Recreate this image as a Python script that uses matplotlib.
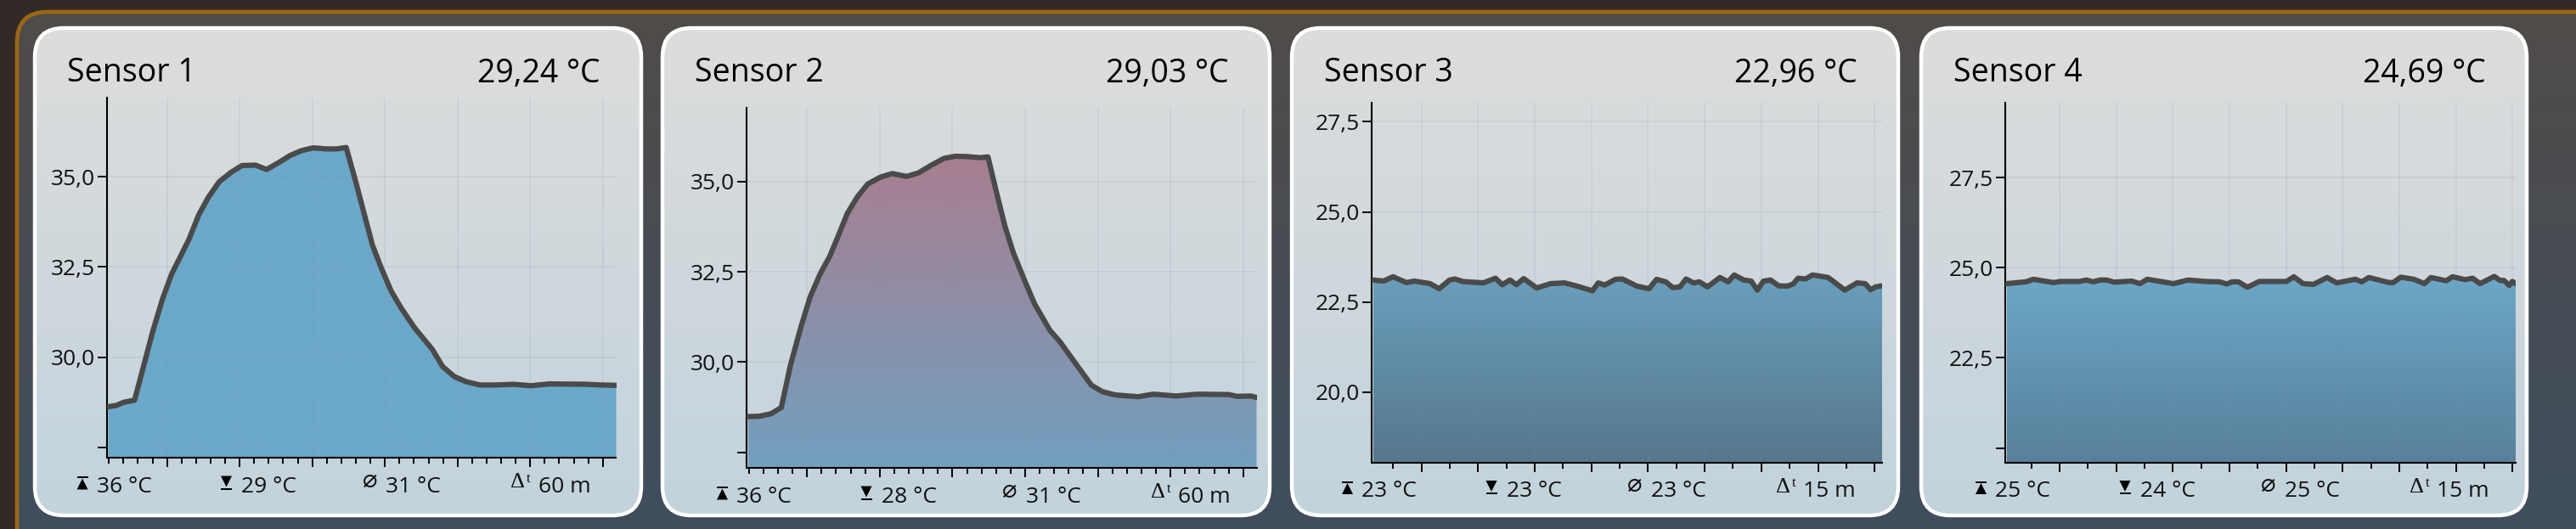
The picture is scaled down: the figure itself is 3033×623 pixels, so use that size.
import numpy as np
import matplotlib
matplotlib.use('Agg')
import matplotlib.pyplot as plt
from matplotlib.colors import LinearSegmentedColormap
from matplotlib.patches import FancyBboxPatch, Polygon, Rectangle

plt.rcParams['font.family'] = ['Open Sans', 'DejaVu Sans']

W, H = 3033, 623

names = ['Sensor 1', 'Sensor 2', 'Sensor 3', 'Sensor 4']
current = ['29,24 °C', '29,03 °C', '22,96 °C', '24,69 °C']
max_labels = ['36 °C', '36 °C', '23 °C', '25 °C']
min_labels = ['29 °C', '28 °C', '23 °C', '24 °C']
avg_labels = ['31 °C', '31 °C', '23 °C', '25 °C']
span_labels = ['60 m', '60 m', '15 m', '15 m']

t1 = [0, 0.9, 1.8, 3.1, 4.0, 5.2, 6.4, 7.5, 8.5, 9.5, 10.7, 11.8, 13.1, 14.5, 15.8, 17.4, 18.7, 20.2, 21.5, 22.8,
      24.2, 25.7, 27.0, 28.1, 29.2, 30.2, 31.2, 32.2, 33.4, 34.6, 36.2, 38.3, 39.5, 40.9, 42.3, 43.9, 45.6, 47.9,
      49.9, 52.1, 56.4, 58.3, 60]
v1 = [28.63, 28.66, 28.75, 28.81, 29.60, 30.67, 31.61, 32.31, 32.78, 33.25, 33.95, 34.42, 34.86, 35.12, 35.31, 35.32,
      35.20, 35.40, 35.59, 35.72, 35.80, 35.77, 35.77, 35.81, 34.89, 34.00, 33.11, 32.50, 31.84, 31.36, 30.81, 30.21,
      29.74, 29.46, 29.32, 29.23, 29.23, 29.25, 29.21, 29.26, 29.25, 29.23, 29.22]

t2 = [0, 1.3, 2.7, 3.9, 5.0, 6.2, 7.3, 8.5, 9.6, 10.6, 11.7, 12.9, 14.1, 15.6, 17.0, 18.7, 20.1, 21.6, 23.1, 24.5,
      25.8, 27.3, 28.3, 29.3, 30.3, 31.3, 32.6, 33.8, 35.6, 36.8, 38.3, 40.5, 41.8, 43.3, 46.0, 47.8, 50.5, 53.0,
      56.7, 57.7, 59.3, 60]
v2 = [28.49, 28.50, 28.57, 28.74, 29.93, 30.96, 31.80, 32.45, 32.92, 33.48, 34.12, 34.58, 34.93, 35.12, 35.22, 35.14,
      35.24, 35.45, 35.64, 35.70, 35.69, 35.66, 35.68, 34.70, 33.76, 33.02, 32.27, 31.61, 30.88, 30.56, 30.07, 29.36,
      29.18, 29.09, 29.04, 29.11, 29.06, 29.11, 29.10, 29.05, 29.06, 29.02]

t3 = [0, .30, .58, .97, 1.21, 1.67, 1.94, 2.25, 2.40, 2.63, 3.24, 3.60, 3.80, 4.03, 4.22, 4.43, 4.82, 5.22, 5.64, 6.01,
      6.46, 6.63, 6.82, 7.14, 7.34, 7.77, 8.13, 8.35, 8.62, 8.83, 9.04, 9.22, 9.44, 9.61, 9.85, 10.22, 10.46, 10.64,
      10.92, 11.14, 11.32, 11.50, 11.71, 11.95, 12.20, 12.38, 12.52, 12.74, 12.95, 13.41, 13.90, 14.26, 14.50, 14.66,
      14.81, 15]
v3 = [23.11, 23.08, 23.20, 23.04, 23.08, 23.01, 22.87, 23.11, 23.14, 23.07, 23.03, 23.16, 22.98, 23.11, 22.98, 23.15,
      22.89, 23.01, 23.03, 22.94, 22.81, 23.03, 22.97, 23.13, 23.14, 22.94, 22.87, 23.13, 23.06, 22.90, 22.92, 23.14,
      23.03, 23.06, 22.92, 23.18, 23.06, 23.25, 23.11, 23.08, 22.83, 23.08, 23.11, 22.95, 22.94, 23.00, 23.16, 23.14,
      23.25, 23.18, 22.83, 23.03, 23.01, 22.84, 22.92, 22.95]

t4 = [0, .56, .78, 1.37, 1.58, 2.13, 2.34, 2.54, 2.75, 2.94, 3.16, 3.68, 3.92, 4.14, 4.91, 5.34, 5.83, 6.27, 6.48, 6.64,
      6.82, 7.09, 7.44, 8.24, 8.46, 8.73, 9.04, 9.44, 9.72, 10.27, 10.46, 10.67, 11.26, 11.39, 11.61, 12.00, 12.31,
      12.50, 12.95, 13.14, 13.51, 13.73, 13.95, 14.37, 14.53, 14.65, 14.81, 14.90, 15]
v4 = [24.56, 24.61, 24.68, 24.59, 24.62, 24.62, 24.66, 24.61, 24.66, 24.66, 24.60, 24.63, 24.56, 24.68, 24.56, 24.66,
      24.62, 24.61, 24.55, 24.61, 24.61, 24.46, 24.62, 24.62, 24.75, 24.56, 24.54, 24.73, 24.58, 24.68, 24.61, 24.73,
      24.59, 24.59, 24.74, 24.68, 24.56, 24.73, 24.64, 24.75, 24.67, 24.71, 24.56, 24.76, 24.65, 24.65, 24.51, 24.62,
      24.56]

times = [t1, t2, t3, t4]
values = [v1, v2, v3, v4]

yticks = [[27.5, 30, 32.5, 35], [27.5, 30, 32.5, 35], [20, 22.5, 25, 27.5], [20, 22.5, 25, 27.5]]
ylabels = [['', '30,0', '32,5', '35,0'], ['', '30,0', '32,5', '35,0'],
           ['20,0', '22,5', '25,0', '27,5'], ['', '22,5', '25,0', '27,5']]
ylims = [(27.217, 37.19), (27.07, 37.04), (18.05, 28.03), (19.60, 29.58)]
xmax = [60, 60, 15, 15]
major_first = [6.94, 6.94, 1.42, 1.55]
major_step = [8.58, 8.58, 1.67, 1.67]
minor_per_major = [5, 5, 2, 2]

# pixel layout: card left/right, axis left/right/top/bottom
cards = [(39, 757), (778, 1497), (1519, 2237), (2260, 2977)]
boxes = [(125.5, 725.5, 115, 539), (879, 1479.5, 127, 551), (1615, 2216, 121, 544.5), (2361, 2962, 121, 544.5)]
fill_top = ['#6ba8c9', '#a97e8f', '#6a9fbd', '#6ca8c8']
fill_bot = ['#6ba8c9', '#72a0c0', '#56778c', '#58809a']

fig = plt.figure(figsize=(W / 100, H / 100), dpi=100, facecolor='#332a28')
bg = fig.add_axes([0, 0, 1, 1], zorder=0)
bg.axis('off')


def gradient(ax, extent, c0, c1, clip):
    cmap = LinearSegmentedColormap.from_list('g', [c0, c1])
    im = ax.imshow(np.linspace(0, 1, 256).reshape(-1, 1), cmap=cmap, extent=extent, aspect='auto',
                   origin='upper', zorder=1)
    im.set_clip_path(clip)
    return im


# outer panel
panel = FancyBboxPatch((20, 14), W + 100, H + 100, boxstyle='round,pad=0,rounding_size=36',
                       fc='none', ec='#9a6716', lw=3.4, zorder=2)
bg.add_patch(panel)
gradient(bg, (18, W, H, 12), '#504b49', '#3f4e5e', panel)

tri_up = np.array([[0, 0], [13, 0], [6.5, -13]])
for i in range(4):
    cx0, cx1 = cards[i]
    card = FancyBboxPatch((cx0 + 2, 33), cx1 - cx0 - 4, 574, boxstyle='round,pad=0,rounding_size=34',
                          fc='none', ec='white', lw=3.2, zorder=4)
    bg.add_patch(card)
    gradient(bg, (cx0, cx1, 609, 31), '#dddddd', '#c2d3dc', card).set_zorder(3)

    bg.text(cx0 + 40, 96.5, names[i], fontsize=27, color='#000000', va='baseline', zorder=5)
    bg.text(cx1 - 50, 96.5, current[i], fontsize=27, color='#000000', va='baseline', ha='right', zorder=5)

    left, right, top, bottom = boxes[i]
    base = bottom + 40.5
    # footer
    bg.text(left - 11.6, base, max_labels[i], fontsize=19, color='#111111', va='baseline', zorder=5)
    bg.text(left + 158.6, base, min_labels[i], fontsize=19, color='#111111', va='baseline', zorder=5)
    bg.text(left + 329, base, avg_labels[i], fontsize=19, color='#111111', va='baseline', zorder=5)
    bg.text(left + 508, base, span_labels[i], fontsize=19, color='#111111', va='baseline', zorder=5)
    bg.text(left + 310, base - 6, '\u2300', fontsize=21, color='#111111', family='DejaVu Sans', ha='center',
            va='baseline', zorder=5)
    bg.text(left + 484, base - 5, '\u0394', fontsize=19, color='#111111', family='Liberation Serif', ha='center',
            va='baseline', zorder=5)
    bg.text(left + 497, base - 12, 't', fontsize=12, color='#111111', family='Liberation Serif', ha='center',
            va='baseline', zorder=5)
    bg.add_patch(Rectangle((left - 35, base - 18.5), 13, 2.2, fc='black', zorder=5))
    bg.add_patch(Polygon(tri_up + [left - 35, base - 3], fc='black', zorder=5))
    bg.add_patch(Rectangle((left + 134.5, base - 5), 13, 2.2, fc='black', zorder=5))
    bg.add_patch(Polygon(tri_up * [1, -1] + [left + 134.5, base - 19], fc='black', zorder=5))

    # chart
    ax = fig.add_axes([left / W, 1 - bottom / H, (right - left) / W, (bottom - top) / H], zorder=1)
    ax.patch.set_alpha(0)
    t = np.array(times[i])
    v = np.array(values[i])
    ylo, yhi = ylims[i]
    pad = 2 * xmax[i] / 600
    xlo, xhi = -pad, xmax[i]

    area = Polygon(np.column_stack([np.r_[t[0], t, t[-1]], np.r_[ylo, v, ylo]]), fc='none', ec='none')
    ax.add_patch(area)
    gradient(ax, (xlo, xhi, ylo, v.max()), fill_top[i], fill_bot[i], area)
    ax.plot(t, v, color='#4a4a4a', lw=4.5, solid_joinstyle='round', zorder=3)

    major = np.arange(major_first[i], xmax[i] + 0.01, major_step[i])
    step = major_step[i] / minor_per_major[i]
    minor = np.arange(major_first[i] % step, xmax[i] + 0.01, step)
    minor = [m for m in minor if np.abs(major - m).min() > step / 3]
    ax.set_xticks(major)
    ax.set_xticks(minor, minor=True)
    ax.set_xticklabels([])
    ax.set_yticks(yticks[i])
    ax.set_yticklabels(ylabels[i], fontsize=19, color='#111111')
    ax.tick_params(axis='x', which='major', length=8, width=1.4, color='black')
    ax.tick_params(axis='x', which='minor', length=5, width=1.4, color='black')
    ax.tick_params(axis='y', length=8, width=1.4, color='black', pad=2)
    ax.grid(True, axis='both', which='major', color='#7f8ba5', alpha=0.14, lw=1.2, zorder=2)
    ax.set_axisbelow(False)
    for s in ['top', 'right']:
        ax.spines[s].set_visible(False)
    ax.spines['left'].set_linewidth(1.5)
    ax.spines['bottom'].set_linewidth(1.5)
    ax.spines['bottom'].set_bounds(0, xhi)
    ax.set_xlim(xlo, xhi)
    ax.set_ylim(ylo, yhi)

bg.set_xlim(0, W)
bg.set_ylim(H, 0)

fig.savefig('out.png', dpi=100, facecolor=fig.get_facecolor())
